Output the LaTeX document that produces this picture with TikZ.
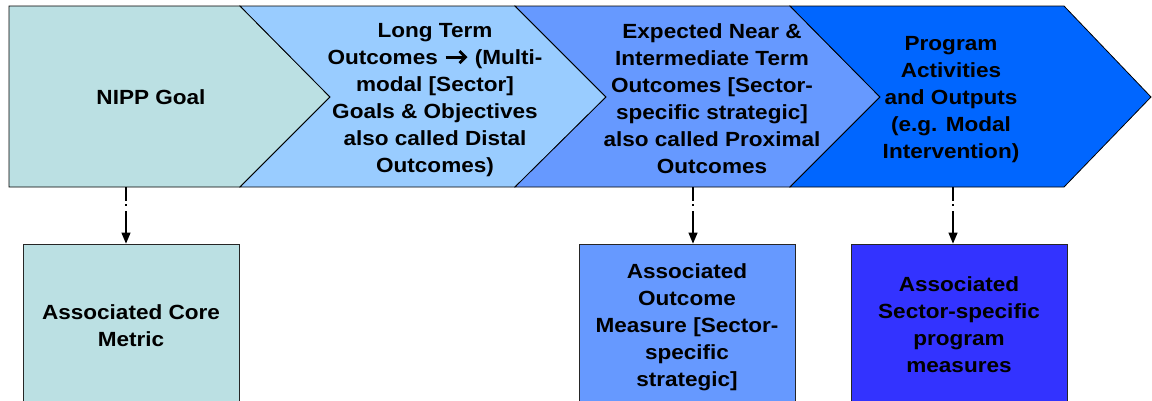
\documentclass[tikz,border=0pt]{standalone}
\usepackage{fontspec}
\setmainfont{Liberation Sans}[FakeStretch=1.1]
\usetikzlibrary{arrows.meta}
\definecolor{cA}{HTML}{BBE0E3}
\definecolor{cB}{HTML}{99CCFF}
\definecolor{cC}{HTML}{6699FF}
\definecolor{cD}{HTML}{0066FF}
\definecolor{cE}{HTML}{3333FF}
\newcommand{\fatarrow}{\tikz[x=1pt,y=1pt,baseline=0pt,line width=2.8pt]{\draw (0,7)--(19,7); \draw[line join=miter] (14,13)--(20,7)--(14,1); \path (23,0);}}
\begin{document}
\begin{tikzpicture}[x=1pt,y=-1pt,
  chev/.style={draw=black,line width=0.8pt,line join=miter},
  lbl/.style={anchor=north,align=center,inner sep=0pt,font=\fontsize{20.5}{27.1}\selectfont\bfseries},
  box/.style={draw=black!85,line width=0.8pt,minimum width=216pt,minimum height=160pt,inner sep=0pt},
  conn/.style={line width=1.2pt,dash pattern=on 14pt off 3pt on 2pt off 5pt on 40pt off 3pt,-{Triangle[length=11pt,width=9pt]}}]
\useasboundingbox (0,0) rectangle (1152,400);
\clip (0,0) rectangle (1152,400);
\fill[white] (0,0) rectangle (1152,400);
% chevrons
\path[chev,fill=cA] (9,6) -- (240,6) -- (330,97) -- (240,187) -- (9,187) -- cycle;
\path[chev,fill=cB] (240,6) -- (515,6) -- (606,97) -- (515,187) -- (240,187) -- (330,97) -- cycle;
\path[chev,fill=cC] (515,6) -- (790,6) -- (880,97) -- (790,187) -- (515,187) -- (606,97) -- cycle;
\path[chev,fill=cD] (790,6) -- (1064,6) -- (1151,97) -- (1064,187) -- (790,187) -- (880,97) -- cycle;
\node[lbl] (t1) at (151,89.8) {NIPP Goal};
\node[lbl] (t2) at (435,22.7) {Long Term\\Outcomes \fatarrow{} (Multi-\\modal [Sector]\\Goals \& Objectives\\also called Distal\\Outcomes)};
\node[lbl] (t3) at (712,23.3) {Expected Near \&\\Intermediate Term\\Outcomes [Sector-\\specific strategic]\\also called Proximal\\Outcomes};
\node[lbl] (t4) at (951,36) {Program\\Activities\\and Outputs\\(e.g. Modal\\Intervention)};
% connector start points on chevron bottoms
\coordinate (a1) at (126,187);
\coordinate (a2) at (693,187);
\coordinate (a3) at (953,187);
% boxes
\node[box,fill=cA] (b1) at (131,324) {};
\node[box,fill=cC] (b2) at (687,324) {};
\node[box,fill=cE] (b3) at (959,324) {};
\node[lbl] (l1) at (131,304) {Associated Core\\Metric};
\node[lbl] (l2) at (687,263) {Associated\\Outcome\\Measure [Sector-\\specific\\strategic]};
\node[lbl] (l3) at (959,276) {Associated\\Sector-specific\\program\\measures};
% connectors
\draw[conn] (a1) -- (b1.north -| a1);
\draw[conn] (a2) -- (b2.north -| a2);
\draw[conn] (a3) -- (b3.north -| a3);
\end{tikzpicture}
\end{document}
